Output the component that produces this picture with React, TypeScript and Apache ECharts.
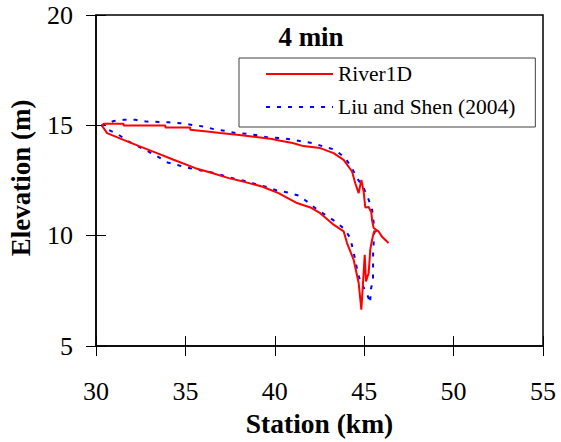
import React, { useEffect, useRef } from "react";
import * as echarts from "echarts";

const xTicks = [30, 35, 40, 45, 50, 55];
const yTicks = [5, 10, 15, 20];

// River1D: upper branch (from upstream end to downstream end)
const riverUpperX = [30.34, 30.43, 31.54, 31.54, 33.88, 33.88, 35.27, 35.27, 36.21, 36.95, 37.89, 39.19, 39.84, 40.31, 41.0, 41.6, 42.54, 43.29, 43.85, 44.32, 44.5, 44.69, 44.84, 44.97, 45.06, 45.25, 45.4, 45.44, 45.53, 45.8, 46.0, 46.36];
const riverUpperY = [14.98, 15.07, 15.07, 14.99, 14.99, 14.9, 14.9, 14.8, 14.72, 14.65, 14.57, 14.45, 14.38, 14.3, 14.2, 14.06, 13.97, 13.74, 13.44, 12.91, 12.38, 11.93, 12.53, 12.0, 11.28, 11.3, 11.05, 10.7, 10.35, 10.2, 9.95, 9.67];
// River1D: lower branch
const riverLowerX = [30.34, 30.62, 31.54, 32.48, 33.41, 34.34, 35.56, 36.49, 37.42, 38.35, 39.28, 40.21, 41.24, 41.99, 42.54, 43.29, 43.85, 44.04, 44.41, 44.69, 44.84, 45.03, 45.1, 45.25, 45.34, 45.44, 45.53, 45.68];
const riverLowerY = [14.98, 14.65, 14.34, 14.04, 13.74, 13.44, 13.06, 12.84, 12.61, 12.43, 12.23, 11.93, 11.48, 11.28, 11.02, 10.5, 10.2, 9.67, 8.91, 7.86, 6.65, 9.14, 7.93, 8.31, 9.37, 9.82, 10.12, 10.23];

// Liu and Shen (2004): upper branch and right side
const liuUpperX = [30.3, 31.0, 31.54, 32.2, 32.85, 34.06, 34.72, 35.37, 36.02, 36.58, 37.23, 37.79, 38.44, 39.1, 39.65, 40.31, 40.92, 41.52, 42.17, 42.73, 43.38, 43.94, 44.32, 44.6, 44.97, 45.25, 45.44, 45.5, 45.57, 45.5, 45.49, 45.38, 45.34];
const liuUpperY = [15.0, 15.2, 15.25, 15.25, 15.17, 15.14, 15.1, 15.02, 14.95, 14.83, 14.75, 14.65, 14.62, 14.54, 14.45, 14.42, 14.36, 14.27, 14.19, 14.04, 13.89, 13.52, 13.06, 12.61, 12.16, 11.63, 11.18, 10.8, 10.27, 9.23, 8.0, 7.6, 7.1];
// Liu and Shen (2004): lower branch
const liuLowerX = [30.3, 30.7, 31.27, 31.82, 32.38, 32.94, 33.5, 34.0, 34.66, 35.27, 35.87, 36.48, 37.14, 37.74, 38.35, 38.97, 39.56, 40.12, 40.72, 41.33, 41.89, 42.37, 42.82, 43.38, 43.9, 44.22, 44.35, 44.5, 44.63, 44.78, 45.12, 45.35];
const liuLowerY = [15.0, 14.8, 14.57, 14.27, 14.04, 13.81, 13.56, 13.32, 13.18, 13.06, 12.96, 12.87, 12.72, 12.58, 12.48, 12.33, 12.2, 12.05, 11.96, 11.82, 11.5, 11.18, 10.95, 10.65, 10.3, 9.9, 9.44, 8.91, 8.38, 7.93, 7.43, 6.95];

const zip = (xs: number[], ys: number[]) => xs.map((x, i) => [x, ys[i]]);

const riverData = [...zip(riverUpperX, riverUpperY).reverse(), ...zip(riverLowerX, riverLowerY).slice(1)];
const liuData = [...zip(liuUpperX, liuUpperY), ...zip(liuLowerX, liuLowerY).reverse()];

const SERIF = "Liberation Serif";

export default function App() {
  const ref = useRef<HTMLDivElement>(null);
  useEffect(() => {
    if (!ref.current) return;
    const chart = echarts.init(ref.current, null, { renderer: "svg" });
    const baseX = {
      type: "value",
      min: xTicks[0],
      max: xTicks[xTicks.length - 1],
      interval: 5,
      position: "bottom",
      splitLine: { show: false },
    };
    const baseY = {
      type: "value",
      min: yTicks[0],
      max: yTicks[yTicks.length - 1],
      interval: 5,
      position: "left",
      splitLine: { show: false },
    };
    chart.setOption({
      animation: false,
      backgroundColor: "#fff",
      textStyle: { fontFamily: SERIF },
      grid: {
        left: 96,
        right: 18,
        top: 15,
        bottom: 95.5,
        show: true,
        borderColor: "#000",
        borderWidth: 1.5,
      },
      legend: {
        orient: "vertical",
        left: 239,
        top: 58,
        itemWidth: 67,
        itemHeight: 14,
        itemGap: 11,
        padding: [5, 20, 9, 26],
        borderColor: "#404040",
        borderWidth: 1,
        backgroundColor: "#fff",
        itemStyle: { opacity: 0, borderWidth: 0 },
        textStyle: { fontFamily: SERIF, fontSize: 21.5, color: "#000", lineHeight: 22 },
        data: ["River1D", "Liu and Shen (2004)"],
      },
      xAxis: [
        {
          ...baseX,
          name: "Station (km)",
          nameLocation: "middle",
          nameGap: 54,
          nameTextStyle: { fontFamily: SERIF, fontSize: 27.5, fontWeight: "bold", color: "#000" },
          axisLine: { show: true, lineStyle: { color: "#000", width: 1.5 } },
          axisTick: { show: true, length: 10, lineStyle: { color: "#000", width: 1 } },
          axisLabel: { margin: 32, fontFamily: SERIF, fontSize: 26, color: "#000" },
        },
        {
          ...baseX,
          axisLine: { show: false },
          axisTick: { show: true, inside: true, length: 10, lineStyle: { color: "#000", width: 1 } },
          axisLabel: { show: false },
        },
      ],
      yAxis: [
        {
          ...baseY,
          axisLine: { show: true, lineStyle: { color: "#000", width: 1.5 } },
          axisTick: { show: true, length: 10, lineStyle: { color: "#000", width: 1 } },
          axisLabel: { margin: 23, fontFamily: SERIF, fontSize: 26, color: "#000" },
        },
        {
          ...baseY,
          axisLine: { show: false },
          axisTick: { show: true, inside: true, length: 10, lineStyle: { color: "#000", width: 1 } },
          axisLabel: { show: false },
        },
      ],
      graphic: [
        {
          type: "text",
          x: 311,
          y: 37,
          style: {
            text: "4 min",
            font: `bold 27px ${SERIF}`,
            fill: "#000",
            textAlign: "center",
            textVerticalAlign: "middle",
          },
        },
        {
          type: "text",
          x: 21,
          y: 178,
          rotation: Math.PI / 2,
          style: {
            text: "Elevation (m)",
            font: `bold 27px ${SERIF}`,
            fill: "#000",
            textAlign: "center",
            textVerticalAlign: "middle",
          },
        },
      ],
      series: [
        {
          name: "River1D",
          type: "line",
          data: riverData,
          symbol: "none",
          lineStyle: { color: "#ff0000", width: 2 },
          itemStyle: { color: "#ff0000" },
          z: 3,
        },
        {
          name: "Liu and Shen (2004)",
          type: "line",
          data: liuData,
          symbol: "none",
          lineStyle: { color: "#0000ff", width: 2, type: [4, 7] },
          itemStyle: { color: "#0000ff" },
          z: 2,
        },
      ],
    });
    return () => chart.dispose();
  }, []);
  return <div ref={ref} style={{ position: "fixed", left: 0, top: 0, width: 561, height: 442 }} />;
}
